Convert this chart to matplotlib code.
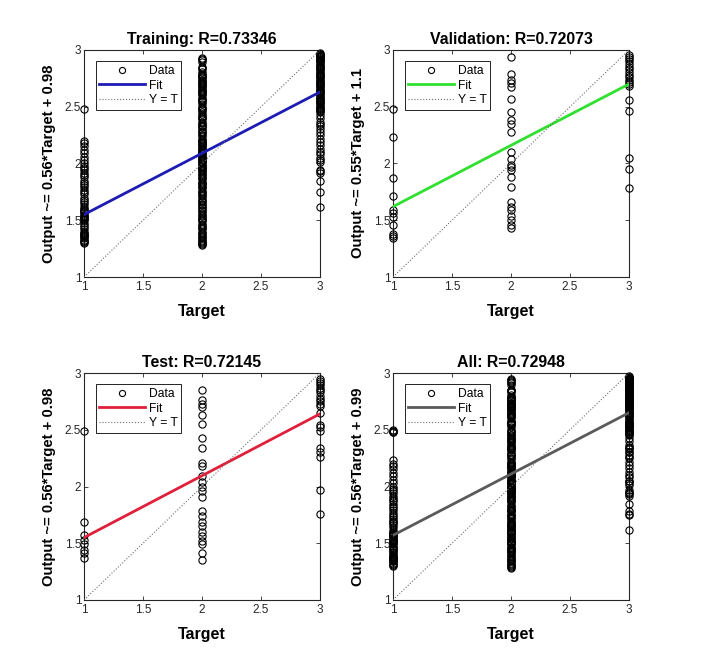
import matplotlib
matplotlib.use("Agg")
import matplotlib.pyplot as plt

plt.rcParams['font.family'] = ['Liberation Sans', 'DejaVu Sans']

# ---------------- data ----------------
titles = ["Training: R=0.73346", "Validation: R=0.72073", "Test: R=0.72145", "All: R=0.72948"]
ylabels = ["Output ~= 0.56*Target + 0.98", "Output ~= 0.55*Target + 1.1",
           "Output ~= 0.56*Target + 0.98", "Output ~= 0.56*Target + 0.99"]
fit_colors = ["#1c1cb4", "#2fe02f", "#e0203a", "#5a5a5a"]
fit_slope = [0.54, 0.54, 0.545, 0.54]
fit_intercept = [1.01, 1.08, 1.005, 1.03]

ticks = [1, 1.5, 2, 2.5, 3]
tick_labels = ["1", "1.5", "2", "2.5", "3"]

train_t1 = [2.48, 2.20, 2.18, 2.15, 2.12, 2.09, 2.06, 2.03, 2.00, 1.98, 1.96, 1.94,
            1.92, 1.90, 1.88, 1.85, 1.83, 1.81, 1.79, 1.77, 1.75, 1.73, 1.70, 1.68,
            1.66, 1.64, 1.62, 1.60, 1.59, 1.58, 1.57, 1.56, 1.55, 1.54, 1.53, 1.52,
            1.51, 1.50, 1.48, 1.46, 1.44, 1.42, 1.40, 1.39, 1.38, 1.37, 1.36, 1.35,
            1.34, 1.33, 1.32, 1.31, 1.30]
train_t2 = [2.93, 2.92, 2.91, 2.89, 2.85, 2.84, 2.83, 2.81, 2.79, 2.78, 2.77, 2.76,
            2.75, 2.74, 2.73, 2.72, 2.71, 2.70, 2.69, 2.68, 2.67, 2.66, 2.65, 2.64,
            2.63, 2.62, 2.61, 2.60, 2.58, 2.57, 2.56, 2.55, 2.54, 2.52, 2.50, 2.49,
            2.48, 2.47, 2.45, 2.44, 2.42, 2.41, 2.40, 2.39, 2.37, 2.36, 2.34, 2.33,
            2.32, 2.30, 2.29, 2.28, 2.27, 2.25, 2.24, 2.22, 2.21, 2.20, 2.19, 2.18,
            2.17, 2.16, 2.15, 2.14, 2.13, 2.12, 2.11, 2.10, 2.09, 2.08, 2.07, 2.06,
            2.05, 2.04, 2.03, 2.02, 2.01, 2.00, 1.99, 1.98, 1.97, 1.96, 1.95, 1.94,
            1.93, 1.92, 1.91, 1.90, 1.88, 1.87, 1.86, 1.84, 1.83, 1.82, 1.80, 1.79,
            1.78, 1.76, 1.75, 1.74, 1.72, 1.71, 1.70, 1.68, 1.67, 1.66, 1.64, 1.63,
            1.62, 1.61, 1.59, 1.58, 1.56, 1.55, 1.54, 1.52, 1.51, 1.50, 1.49, 1.47,
            1.46, 1.44, 1.43, 1.42, 1.40, 1.39, 1.38, 1.36, 1.35, 1.34, 1.33, 1.32,
            1.31, 1.30, 1.29, 1.28]
train_t3 = [2.97, 2.965, 2.96, 2.955, 2.95, 2.945, 2.94, 2.93, 2.92, 2.915, 2.91,
            2.90, 2.89, 2.88, 2.87, 2.86, 2.85, 2.84, 2.83, 2.82, 2.81, 2.80, 2.79,
            2.78, 2.77, 2.76, 2.75, 2.74, 2.73, 2.72, 2.71, 2.70, 2.69, 2.68, 2.67,
            2.66, 2.65, 2.64, 2.63, 2.62, 2.61, 2.60, 2.59, 2.58, 2.57, 2.56, 2.55,
            2.54, 2.53, 2.52, 2.51, 2.50, 2.49, 2.48, 2.47, 2.46, 2.45, 2.43, 2.40,
            2.37, 2.35, 2.33, 2.30, 2.28, 2.25, 2.22, 2.19, 2.16, 2.13, 2.10, 2.08,
            2.05, 2.03, 2.01, 1.94, 1.93, 1.92, 1.85, 1.75, 1.62]

val_t1 = [2.48, 2.23, 1.87, 1.71, 1.59, 1.56, 1.53, 1.46, 1.38, 1.36, 1.34]
val_t2 = [2.94, 2.79, 2.74, 2.71, 2.67, 2.57, 2.45, 2.38, 2.35, 2.28, 2.10, 2.04,
          1.99, 1.97, 1.94, 1.88, 1.79, 1.66, 1.62, 1.59, 1.54, 1.50, 1.46, 1.43]
val_t3 = [2.96, 2.94, 2.92, 2.90, 2.88, 2.85, 2.83, 2.81, 2.78, 2.76, 2.74, 2.72,
          2.70, 2.68, 2.56, 2.46, 2.05, 1.95, 1.78]

test_t1 = [2.49, 1.69, 1.57, 1.53, 1.49, 1.44, 1.41, 1.37]
test_t2 = [2.85, 2.76, 2.73, 2.70, 2.63, 2.55, 2.43, 2.34, 2.21, 2.18, 2.09, 2.04,
           2.00, 1.96, 1.91, 1.78, 1.74, 1.69, 1.65, 1.60, 1.56, 1.52, 1.49, 1.41, 1.35]
test_t3 = [2.95, 2.93, 2.91, 2.89, 2.87, 2.85, 2.83, 2.80, 2.77, 2.75, 2.73, 2.71,
           2.65, 2.54, 2.52, 2.49, 2.34, 2.30, 2.26, 1.97, 1.76]

all_t1 = train_t1 + val_t1 + test_t1 + [2.50]
all_t2 = train_t2 + val_t2 + test_t2 + [2.95]
all_t3 = train_t3 + val_t3 + test_t3

panels = [(train_t1, train_t2, train_t3), (val_t1, val_t2, val_t3),
          (test_t1, test_t2, test_t3), (all_t1, all_t2, all_t3)]

# ---------------- figure ----------------
fig = plt.figure(figsize=(7.05, 6.71), dpi=100)
W, H = 705, 671
ax_w, ax_h = 236, 227
lefts = [84, 393, 84, 393]
tops = [50, 50, 373, 373]
axcol = "#262626"

for i in range(4):
    ax = fig.add_axes([lefts[i] / W, 1 - (tops[i] + ax_h) / H, ax_w / W, ax_h / H])
    t1, t2, t3 = panels[i]
    xs = [1] * len(t1) + [2] * len(t2) + [3] * len(t3)
    ys = list(t1) + list(t2) + list(t3)
    ax.plot(xs, ys, 'o', mfc='none', mec='black', ms=5.2, mew=0.8,
            clip_on=False, label='Data', zorder=3)
    fx = [1, 3]
    fy = [fit_slope[i] * x + fit_intercept[i] for x in fx]
    ax.plot(fx, fy, '-', color=fit_colors[i], lw=2.0, label='Fit', zorder=4)
    ax.plot([1, 3], [1, 3], ':', color='#707070', lw=0.8, label='Y = T', zorder=5)

    ax.set_xlim(1, 3)
    ax.set_ylim(1, 3)
    ax.set_xticks(ticks)
    ax.set_yticks(ticks)
    ax.set_xticklabels(tick_labels)
    ax.set_yticklabels(tick_labels)
    ax.tick_params(direction='in', length=3, width=0.6, colors=axcol,
                   labelsize=8.5, top=True, right=True, pad=3)
    ax.tick_params(axis='y', pad=2)
    for s in ax.spines.values():
        s.set_color(axcol)
        s.set_linewidth(0.8)

    ax.set_title(titles[i], fontsize=11.4, fontweight='bold', pad=4, color='black')
    ax.set_xlabel("Target", fontsize=11.5, fontweight='bold', labelpad=8)
    ax.set_ylabel(ylabels[i], fontsize=10.7, fontweight='bold')
    ax.yaxis.set_label_coords(-0.12, 0.5)

    leg = ax.legend(loc='upper left', bbox_to_anchor=(0.05, 0.95), fontsize=8.7,
                    frameon=True, fancybox=False, framealpha=1, edgecolor='black',
                    handlelength=3.8, handletextpad=0.3, borderpad=0.3,
                    labelspacing=0.22, borderaxespad=0, markerscale=0.85)
    leg.get_frame().set_linewidth(0.6)

fig.savefig("out.png", dpi=100)
